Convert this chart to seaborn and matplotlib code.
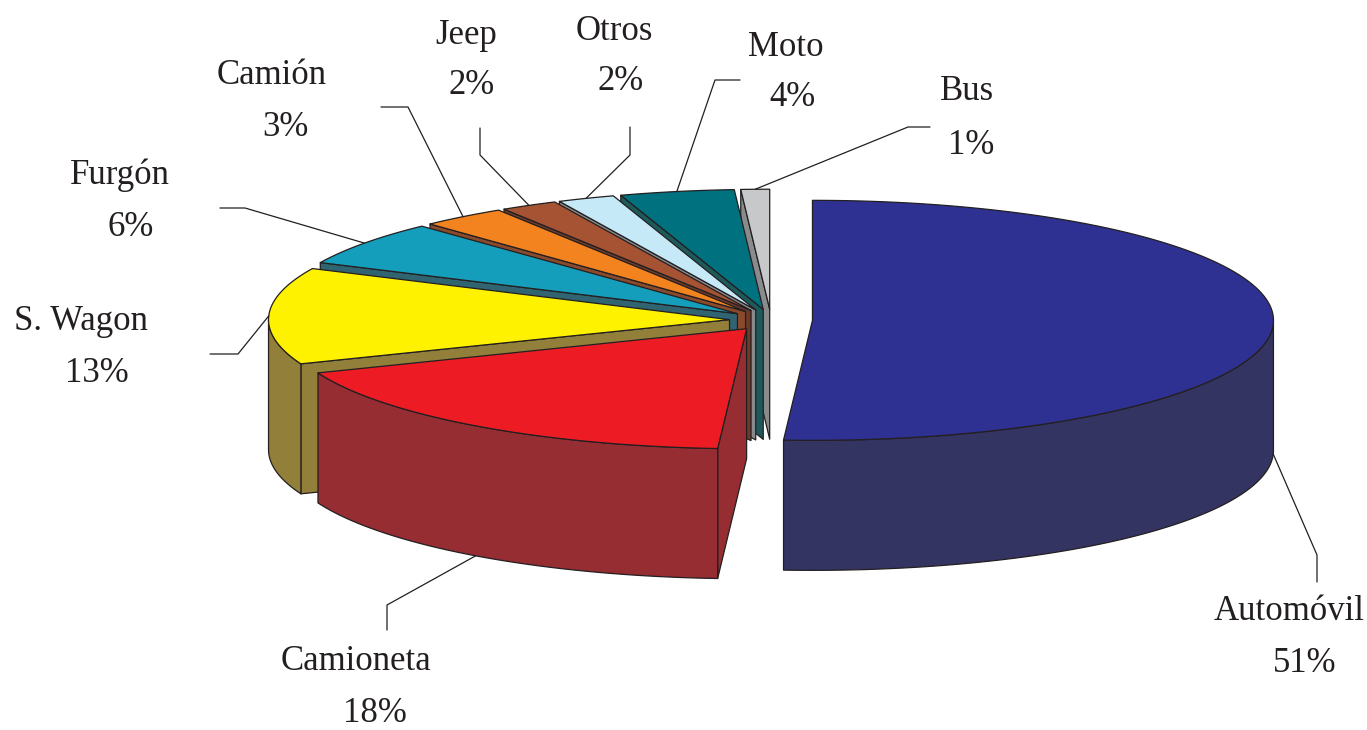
import numpy as np
import matplotlib
matplotlib.use("Agg")
import matplotlib.pyplot as plt
from matplotlib.patches import Polygon
import seaborn as sns

# Data: vehicle share (%), clockwise from 12 o'clock
CATEGORIES = ["Automóvil", "Camioneta", "S. Wagon", "Furgón", "Camión",
              "Jeep", "Otros", "Moto", "Bus"]
SHARES = [51, 18, 13, 6, 3, 2, 2, 4, 1]

# Styles
TOP_COLORS = ["#2e3192", "#ed1c24", "#fff200", "#159ebb", "#f3831f",
              "#a65333", "#c6e9f8", "#00717f", "#c7c8ca"]
WALL_COLORS = ["#343463", "#952d33", "#927f3a", "#2f6470", "#8a4a2c",
               "#6d3b2b", "#87898c", "#1e5a5b", "#8a8b8d"]
EDGE = "#231f20"

# Layout (pixel coordinates of the 1367x730 canvas)
CX, CY = 771, 320        # pie centre
RX, RY = 461, 120        # ellipse radii of the top face
DEPTH = 130              # thickness of the pie
EXPLODE = 0.09           # radial offset of every slice

NAME_POS = [(1289, 611), (356, 662), (81, 322), (120, 175), (272, 75),
            (466, 35), (614, 32), (786, 47), (967, 92)]
PCT_POS = [(1305, 664), (375, 713), (97, 374), (131, 227), (285, 127),
           (472, 86), (621, 82), (792, 97), (971, 146)]
LEADER_KNEE = [(1317, 555), (387, 605), (238, 354), (245, 208), (408, 107),
               (480, 155), (630, 155), (715, 80), (908, 127)]
LEADER_END = [(1317, 582), (387, 630), (210, 354), (220, 208), (381, 107),
              (480, 128), (630, 127), (740, 80), (930, 127)]


def rim(cx, cy, t, dz=0.0):
    return cx + RX * np.cos(t), cy - RY * np.sin(t) + dz


def add_poly(ax, pts, color, z):
    ax.add_patch(Polygon(pts, closed=True, facecolor=color, edgecolor=EDGE,
                         linewidth=0.9, joinstyle="round", zorder=z))


sns.set_theme(style="white")
plt.rcParams["font.family"] = ["Liberation Serif", "DejaVu Serif"]

fig = plt.figure(figsize=(13.67, 7.30), dpi=100)
ax = fig.add_axes([0, 0, 1, 1])
ax.set_xlim(0, 1367)
ax.set_ylim(730, 0)
ax.axis("off")

# slice angles (radians), clockwise from the top
shares = np.array(SHARES, dtype=float)
cum = np.concatenate([[0], np.cumsum(shares)]) / shares.sum()
t_hi = np.pi / 2 - 2 * np.pi * cum[:-1]
t_lo = np.pi / 2 - 2 * np.pi * cum[1:]
mids = (t_hi + t_lo) / 2

centres = [(CX + EXPLODE * RX * np.cos(m), CY - EXPLODE * RY * np.sin(m)) for m in mids]

# paint back slices first
order = np.argsort(-np.sin(mids))
for rank, i in enumerate(order):
    cx, cy = centres[i]
    z = 2 + rank * 3
    ts = np.linspace(t_hi[i], t_lo[i], 240)
    top_arc = [rim(cx, cy, t) for t in ts]

    # radial cut faces facing the viewer
    for t, visible in ((t_hi[i], np.cos(t_hi[i]) < -1e-9), (t_lo[i], np.cos(t_lo[i]) > 1e-9)):
        if visible:
            px, py = rim(cx, cy, t)
            face = [(cx, cy), (px, py), (px, py + DEPTH), (cx, cy + DEPTH)]
            add_poly(ax, face, WALL_COLORS[i], z)

    # outer wall on the front half
    front = np.sin(ts) < 0
    if front.any():
        idx = np.where(front)[0]
        runs = np.split(idx, np.where(np.diff(idx) > 1)[0] + 1)
        for run in runs:
            upper = [rim(cx, cy, ts[k]) for k in run]
            lower = [rim(cx, cy, ts[k], DEPTH) for k in run[::-1]]
            add_poly(ax, upper + lower, WALL_COLORS[i], z + 1)

    add_poly(ax, [(cx, cy)] + top_arc, TOP_COLORS[i], z + 2)

# labels and leader lines
for i, name in enumerate(CATEGORIES):
    cx, cy = centres[i]
    dz = DEPTH if np.sin(mids[i]) < 0 else 0
    sx, sy = rim(cx, cy, mids[i], dz)
    kx, ky = LEADER_KNEE[i]
    ex, ey = LEADER_END[i]
    ax.plot([sx, kx, ex], [sy, ky, ey], color=EDGE, lw=0.9, zorder=100)
    ax.text(*NAME_POS[i], name, ha="center", va="center", fontsize=25, color=EDGE)
    ax.text(*PCT_POS[i], f"{SHARES[i]}%", ha="center", va="center", fontsize=25, color=EDGE)

fig.savefig("out.png", dpi=100)
